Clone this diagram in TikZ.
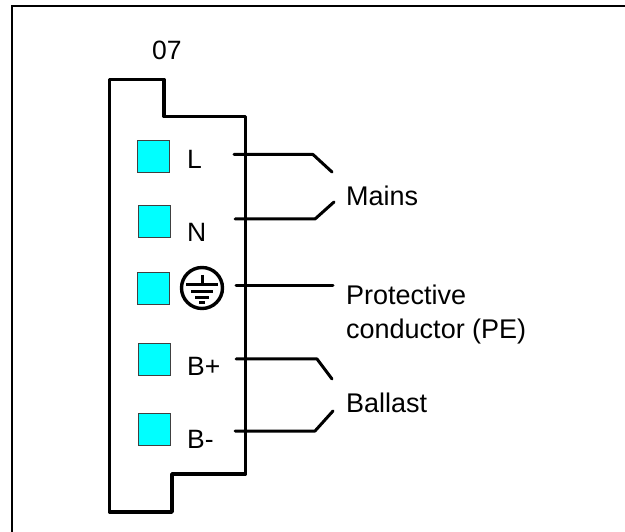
\documentclass[tikz,border=0pt]{standalone}
\usepackage{fontspec}
\setmainfont{Liberation Sans}
\definecolor{termfill}{RGB}{0,255,255}
\tikzset{
  wire/.style={line width=3pt,line cap=round,line join=round},
  housing/.style={line width=3.4pt,line join=round,line cap=round},
  term/.style={draw=black!75,line width=0.8pt,fill=termfill,minimum size=32.5pt,inner sep=0,outer sep=0},
  lbl/.style={anchor=base west,inner sep=0,font=\fontsize{26.5}{34}\selectfont,text=black},
  caption/.style={anchor=base west,inner sep=0,font=\fontsize{27}{34}\selectfont,align=left,text=black}
}
\begin{document}
\begin{tikzpicture}[x=1pt,y=-1pt]
\useasboundingbox (0,0) rectangle (625,532);
\draw[line width=2pt] (625,6.5) -- (12,6.5) -- (12,532);
\node[lbl] (title) at (152,60) {07};
\draw[housing] (109.5,79.5) -- (164,79.5) -- (164,116.5) -- (245.5,116.5) -- (245.5,474) -- (172,474) -- (172,512) -- (109.5,512) -- cycle;
\node[term] (t1) at (153.5,156.5) {};
\node[term] (t2) at (154.5,221.5) {};
\node[term] (t3) at (153.5,288.5) {};
\node[term] (t4) at (154.5,359.5) {};
\node[term] (t5) at (154.5,429.5) {};
\node[lbl] (l1) at (187,169) {L};
\node[lbl] (l2) at (187,241.5) {N};
\node[lbl] (l4) at (187,375.5) {B+};
\node[lbl] (l5) at (187,448.5) {B-};
\node[circle,draw,line width=3.4pt,minimum size=41pt,inner sep=0] (pe) at (202,288) {};
\draw[line width=3pt] (202,275) -- (202,285) (186,285) -- (218,285) (191,292) -- (213,292) (195,298) -- (209,298) (199,303) -- (205,303);
\node[caption] (mains) at (346,206) {Mains};
\node[caption] (prot) at (346,338) {Protective\\conductor (PE)};
\node[caption] (ballast) at (346,413) {Ballast};
\coordinate (w1) at (234,154.5);
\coordinate (w2) at (235,219);
\coordinate (w3) at (236,286);
\coordinate (w4) at (236,359);
\coordinate (w5) at (235,431);
\coordinate (e1) at (332,172);
\coordinate (e2) at (334,202);
\coordinate (e3) at (333,286);
\coordinate (e4) at (332,379);
\coordinate (e5) at (333,411);
\draw[wire] (w1) -- (313,154.5) -- (e1);
\draw[wire] (w2) -- (315,219) -- (e2);
\draw[wire] (w3) -- (e3);
\draw[wire] (w4) -- (317,359) -- (e4);
\draw[wire] (w5) -- (315,431) -- (e5);
\end{tikzpicture}
\end{document}
